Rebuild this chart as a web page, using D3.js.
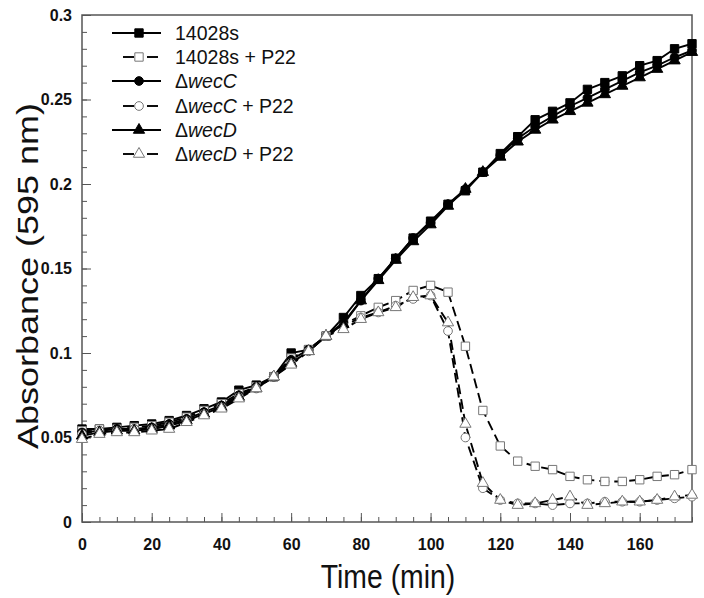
<!DOCTYPE html>
<html><head><meta charset="utf-8">
<script src="https://cdn.jsdelivr.net/npm/d3@7"></script>
<style>body{margin:0;background:#fff}svg{display:block}</style>
</head><body>
<script>
const times = d3.range(0, 176, 5);
const s14028 = [0.055,0.055,0.056,0.057,0.058,0.060,0.063,0.067,0.071,0.078,0.081,0.086,0.100,0.102,0.110,0.121,0.134,0.144,0.156,0.168,0.178,0.188,0.196,0.207,0.218,0.228,0.238,0.243,0.248,0.256,0.260,0.264,0.270,0.273,0.280,0.283];
const s14028P22 = [0.054,0.055,0.055,0.056,0.057,0.059,0.062,0.066,0.070,0.076,0.080,0.086,0.097,0.102,0.110,0.117,0.122,0.127,0.131,0.137,0.140,0.136,0.104,0.066,0.045,0.036,0.033,0.031,0.027,0.025,0.024,0.024,0.025,0.027,0.028,0.031];
const wecC = [0.053,0.054,0.055,0.055,0.056,0.058,0.061,0.065,0.069,0.075,0.080,0.086,0.096,0.102,0.110,0.118,0.131,0.144,0.156,0.168,0.177,0.188,0.197,0.207,0.217,0.227,0.234,0.240,0.246,0.251,0.256,0.261,0.266,0.270,0.275,0.279];
const wecCP22 = [0.052,0.054,0.054,0.055,0.055,0.057,0.060,0.064,0.068,0.074,0.079,0.086,0.094,0.101,0.110,0.116,0.121,0.124,0.128,0.132,0.134,0.113,0.050,0.020,0.013,0.011,0.011,0.010,0.011,0.011,0.012,0.012,0.012,0.013,0.014,0.015];
const wecD = [0.051,0.053,0.054,0.054,0.055,0.057,0.060,0.064,0.068,0.074,0.079,0.086,0.094,0.101,0.110,0.117,0.131,0.143,0.155,0.166,0.176,0.187,0.197,0.207,0.216,0.225,0.232,0.238,0.243,0.248,0.253,0.258,0.263,0.268,0.273,0.278];
const wecDP22 = [0.049,0.052,0.053,0.053,0.054,0.055,0.059,0.063,0.067,0.073,0.079,0.086,0.093,0.101,0.110,0.114,0.120,0.124,0.127,0.133,0.134,0.118,0.058,0.023,0.013,0.010,0.011,0.013,0.015,0.010,0.011,0.012,0.012,0.013,0.015,0.016];
const xTicks = [0,20,40,60,80,100,120,140,160];
const yTicks = [0,0.05,0.1,0.15,0.2,0.25,0.3];

const series = [
  {name:"14028s", pre:"", ital:"", post:"", vals:s14028, sym:d3.symbolSquare, filled:true, dashed:false, size:70},
  {name:"14028s + P22", pre:"", ital:"", post:"", vals:s14028P22, sym:d3.symbolSquare, filled:false, dashed:true, size:70},
  {pre:"Δ", ital:"wecC", post:"", vals:wecC, sym:d3.symbolCircle, filled:true, dashed:false, size:60},
  {pre:"Δ", ital:"wecC", post:" + P22", vals:wecCP22, sym:d3.symbolCircle, filled:false, dashed:true, size:60},
  {pre:"Δ", ital:"wecD", post:"", vals:wecD, sym:d3.symbolTriangle, filled:true, dashed:false, size:55},
  {pre:"Δ", ital:"wecD", post:" + P22", vals:wecDP22, sym:d3.symbolTriangle, filled:false, dashed:true, size:55}
];

const W = 704, H = 598;
const L = 82, R = 692, T = 15, B = 522;
const FONT = "Liberation Sans, Arial, sans-serif";
const svg = d3.select("body").append("svg").attr("width", W).attr("height", H);
const x = d3.scaleLinear().domain([0,175]).range([L,R]);
const y = d3.scaleLinear().domain([0,0.3]).range([B,T]);
const axisColor = "#555";

svg.append("rect").attr("x",L).attr("y",T).attr("width",R-L).attr("height",B-T)
  .attr("fill","none").attr("stroke",axisColor).attr("stroke-width",1.5);

const gx = svg.append("g").attr("transform",`translate(0,${B})`);
gx.call(d3.axisBottom(x).tickValues(d3.range(0,176,5)).tickSize(-5).tickFormat(""));
gx.select(".domain").remove();
const gx2 = svg.append("g").attr("transform",`translate(0,${B})`);
gx2.call(d3.axisBottom(x).tickValues(xTicks).tickSize(-9).tickPadding(17).tickFormat(d3.format("d")));
gx2.select(".domain").remove();
gx2.selectAll("text").attr("font-family",FONT).attr("font-weight","bold").attr("font-size",16).attr("fill","#111");

const gy = svg.append("g").attr("transform",`translate(${L},0)`);
gy.call(d3.axisLeft(y).tickValues(d3.range(0,0.3001,0.01)).tickSize(-5).tickFormat(""));
gy.select(".domain").remove();
const gy2 = svg.append("g").attr("transform",`translate(${L},0)`);
gy2.call(d3.axisLeft(y).tickValues(yTicks).tickSize(-9).tickPadding(10).tickFormat(d=>d===0?"0":String(+d.toFixed(2))));
gy2.select(".domain").remove();
gy2.selectAll("text").attr("font-family",FONT).attr("font-weight","bold").attr("font-size",16).attr("fill","#111");
svg.selectAll(".tick line").attr("stroke",axisColor).attr("stroke-width",1);

const line = d3.line().x((d,i)=>x(times[i])).y(d=>y(d));
series.forEach(s=>{
  svg.append("path").attr("d", line(s.vals)).attr("fill","none")
    .attr("stroke","#000").attr("stroke-width",1.9)
    .attr("stroke-dasharray", s.dashed ? "10,5" : null);
});
series.forEach(s=>{
  const sym = d3.symbol().type(s.sym).size(s.size);
  svg.append("g").selectAll("path").data(s.vals).join("path")
    .attr("transform",(d,i)=>`translate(${x(times[i])},${y(d)})`)
    .attr("d", sym)
    .attr("fill", s.filled ? "#000" : "#fff")
    .attr("stroke", s.filled ? "#000" : "#777")
    .attr("stroke-width", 1);
});

const leg = svg.append("g");
const rows = [33,57,81,106,130,154];
series.forEach((s,i)=>{
  const cy = rows[i];
  if (s.dashed) {
    leg.append("line").attr("x1",123).attr("x2",134).attr("y1",cy).attr("y2",cy).attr("stroke","#000").attr("stroke-width",1.9);
    leg.append("line").attr("x1",147).attr("x2",158).attr("y1",cy).attr("y2",cy).attr("stroke","#000").attr("stroke-width",1.9);
  } else {
    leg.append("line").attr("x1",112).attr("x2",161).attr("y1",cy).attr("y2",cy).attr("stroke","#000").attr("stroke-width",1.9);
  }
  leg.append("path").attr("transform",`translate(139,${cy})`).attr("d", d3.symbol().type(s.sym).size(s.size)())
    .attr("fill", s.filled ? "#000" : "#fff").attr("stroke", s.filled ? "#000" : "#777").attr("stroke-width",1);
  const t = leg.append("text").attr("x",175).attr("y",cy+7)
    .attr("font-family",FONT).attr("font-size",19.5).attr("fill","#111");
  if (s.name) t.text(s.name);
  else {
    t.append("tspan").text(s.pre);
    t.append("tspan").attr("font-style","italic").text(s.ital);
    if (s.post) t.append("tspan").text(s.post);
  }
});

svg.append("text").attr("transform",`translate(${(L+R)/2 + 1},588) scale(0.86,1)`).attr("text-anchor","middle")
  .attr("font-family",FONT).attr("font-size",33).attr("fill","#111").text("Time (min)");
svg.append("text").attr("transform",`translate(38,276) scale(0.82,1) rotate(-90)`).attr("text-anchor","middle")
  .attr("font-family",FONT).attr("font-size",36).attr("fill","#111").text("Absorbance (595 nm)");
</script>
</body></html>
